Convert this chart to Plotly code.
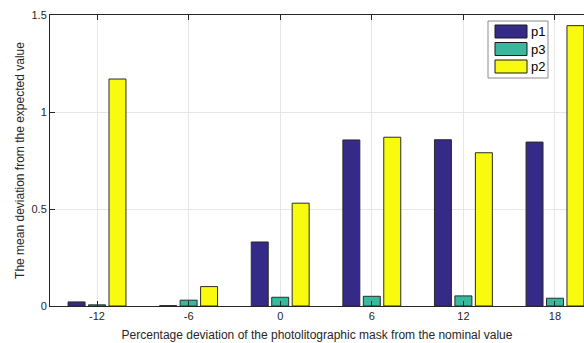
import plotly.graph_objects as go

categories = [-12, -6, 0, 6, 12, 18]
p1 = [0.021, 0.002, 0.33, 0.856, 0.857, 0.845]
p3 = [0.006, 0.030, 0.045, 0.050, 0.052, 0.040]
p2 = [1.17, 0.10, 0.53, 0.87, 0.79, 1.445]
y_ticks = [0, 0.5, 1, 1.5]
y_tick_labels = ["0", "0.5", "1", "1.5"]

series = [("p1", p1, "#352a87"), ("p3", p3, "#38b99e"), ("p2", p2, "#f9fb0e")]

W, H = 584, 343
ML, MR, MT, MB = 50, 0, 15, 37
PW, PH = W - ML - MR, H - MT - MB

fig = go.Figure()
for name, vals, col in series:
    fig.add_trace(go.Bar(x=categories, y=vals, name=name, showlegend=False,
                         marker=dict(color=col, line=dict(color="#2b2b2b", width=1))))

# custom MATLAB-style legend (pixel layout converted to paper coords)
def px(x):
    return (x - ML) / PW

def py(y):
    return (H - MB - y) / PH

shapes = []
annotations = []
shapes.append(dict(type="rect", xref="paper", yref="paper",
                   x0=px(488), x1=px(548), y0=py(78), y1=py(21),
                   line=dict(color="#8c8c8c", width=1), fillcolor="white", layer="above"))
for i, (name, vals, col) in enumerate(series):
    top = 25 + i * 17.5
    shapes.append(dict(type="rect", xref="paper", yref="paper",
                       x0=px(495), x1=px(527), y0=py(top + 13), y1=py(top),
                       line=dict(color="#1a1a1a", width=1), fillcolor=col, layer="above"))
    annotations.append(dict(xref="paper", yref="paper", x=px(529), y=py(top + 6.5),
                            text=name, showarrow=False, xanchor="left", yanchor="middle",
                            font=dict(size=13, color="#000000")))

axis_font = dict(family="Liberation Sans, Arial, sans-serif", size=11, color="#262626")
fig.update_layout(
    width=W, height=H,
    margin=dict(l=ML, r=MR, t=MT, b=MB),
    paper_bgcolor="white", plot_bgcolor="white",
    barmode="group", bargap=0.33, bargroupgap=0.17,
    font=axis_font,
    shapes=shapes, annotations=annotations,
    xaxis=dict(range=[-15.08, 19.9], tickvals=categories, ticktext=[str(c) for c in categories],
               showgrid=True, gridcolor="#e6e6e6", zeroline=False,
               showline=True, linecolor="#262626", linewidth=1, mirror="ticks",
               ticks="inside", ticklen=5, tickcolor="#262626",
               title=dict(text="Percentage deviation of the photolitographic mask from the nominal value",
                          font=dict(size=12, color="#262626"), standoff=9)),
    yaxis=dict(range=[0, 1.5], tickvals=y_ticks, ticktext=y_tick_labels,
               showgrid=True, gridcolor="#e6e6e6", zeroline=False,
               showline=True, linecolor="#262626", linewidth=1,
               ticks="inside", ticklen=5, tickcolor="#262626",
               title=dict(text="The mean deviation from the expected value",
                          font=dict(size=12, color="#262626"), standoff=4)),
)

fig.write_html("out.html")
